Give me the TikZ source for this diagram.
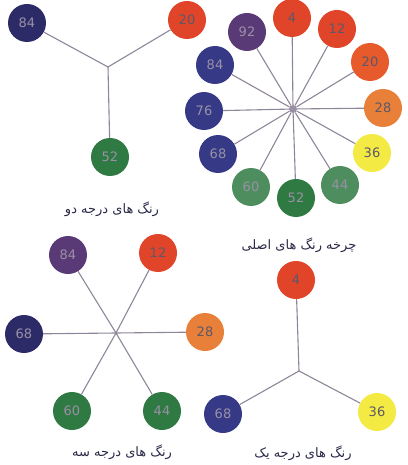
\documentclass[tikz,border=0pt]{standalone}
\usepackage{fontspec}
\setsansfont{DejaVu Sans}
\newfontfamily\farsifont[Script=Arabic]{DejaVu Sans}
\TeXXeTstate=1
\definecolor{navy}{HTML}{2C2B68}
\definecolor{blueviolet}{HTML}{363A86}
\definecolor{redorange}{HTML}{E0452A}
\definecolor{orangered}{HTML}{E65A2C}
\definecolor{orangec}{HTML}{E8803A}
\definecolor{yellowc}{HTML}{F4EA44}
\definecolor{greenc}{HTML}{2F7A42}
\definecolor{purplec}{HTML}{5A3A76}
\definecolor{spoke}{HTML}{8E8698}
\definecolor{numgray}{HTML}{9A90A6}
\definecolor{numdark}{HTML}{5C5868}
\definecolor{captionc}{HTML}{2A2A48}
\begin{document}
\begin{tikzpicture}[x=1pt,y=-1pt]
		\tikzset{ball/.style = {shape=circle,minimum size=38pt,inner sep=0pt,text=numgray,font=\sffamily\fontsize{13}{13}\selectfont}}
		\tikzset{warmball/.style = {ball,text=numdark}}
		\tikzset{spokeline/.style = {draw=spoke,line width=1.1pt}}
		\tikzset{caption/.style = {text=captionc,font=\farsifont\fontsize{13}{13}\selectfont}}
		\useasboundingbox (0,0) rectangle (407,465);
		% second degree
		\coordinate (hubA) at (108,67);
		\node[ball,fill=navy] (a84) at (27,23) {84};
		\node[warmball,fill=redorange] (a20) at (187,20) {20};
		\node[ball,fill=greenc] (a52) at (110,157) {52};
		\path[spokeline] (hubA) edge (a84) (hubA) edge (a20) (hubA) edge (a52);
		\node[caption] (capA) at (112,209) {\beginR رنگ های درجه دو\endR};
		% main wheel
		\node[shape=circle,fill=numgray,minimum size=8pt,inner sep=0pt] (hubW) at (293,109) {};
		\node[warmball,fill=redorange] (w4) at (292,18) {4};
		\node[warmball,fill=redorange] (w12) at (337,29) {12};
		\node[warmball,fill=orangered] (w20) at (370,62) {20};
		\node[warmball,fill=orangec] (w28) at (383,108) {28};
		\node[warmball,fill=yellowc] (w36) at (372,153) {36};
		\node[ball,fill=greenc!85!white] (w44) at (340,185) {44};
		\node[ball,fill=greenc] (w52) at (296,198) {52};
		\node[ball,fill=greenc!85!white] (w60) at (251,187) {60};
		\node[ball,fill=blueviolet] (w68) at (218,154) {68};
		\node[ball,fill=blueviolet] (w76) at (204,111) {76};
		\node[ball,fill=blueviolet] (w84) at (215,65) {84};
		\node[ball,fill=purplec] (w92) at (247,32) {92};
		\path[spokeline] (hubW) edge (w4) (hubW) edge (w12) (hubW) edge (w20)
			(hubW) edge (w28) (hubW) edge (w36) (hubW) edge (w44)
			(hubW) edge (w52) (hubW) edge (w60) (hubW) edge (w68)
			(hubW) edge (w76) (hubW) edge (w84) (hubW) edge (w92);
		\node[caption] (capW) at (299,245) {\beginR چرخه رنگ های اصلی\endR};
		% third degree
		\coordinate (hubC) at (116,333);
		\node[ball,fill=purplec] (c84) at (68,255) {84};
		\node[warmball,fill=redorange] (c12) at (158,253) {12};
		\node[ball,fill=navy] (c68) at (24,334) {68};
		\node[warmball,fill=orangec] (c28) at (205,332) {28};
		\node[ball,fill=greenc] (c60) at (72,411) {60};
		\node[ball,fill=greenc] (c44) at (162,411) {44};
		\path[spokeline] (hubC) edge (c84) (hubC) edge (c12) (hubC) edge (c68)
			(hubC) edge (c28) (hubC) edge (c60) (hubC) edge (c44);
		\node[caption] (capC) at (122,452) {\beginR رنگ های درجه سه\endR};
		% first degree
		\coordinate (hubB) at (299,371);
		\node[warmball,fill=redorange] (b4) at (296,280) {4};
		\node[ball,fill=blueviolet] (b68) at (223,414) {68};
		\node[warmball,fill=yellowc] (b36) at (377,412) {36};
		\path[spokeline] (hubB) edge (b4) (hubB) edge (b68) (hubB) edge (b36);
		\node[caption] (capB) at (303,453) {\beginR رنگ های درجه یک\endR};
	\end{tikzpicture}
\end{document}
